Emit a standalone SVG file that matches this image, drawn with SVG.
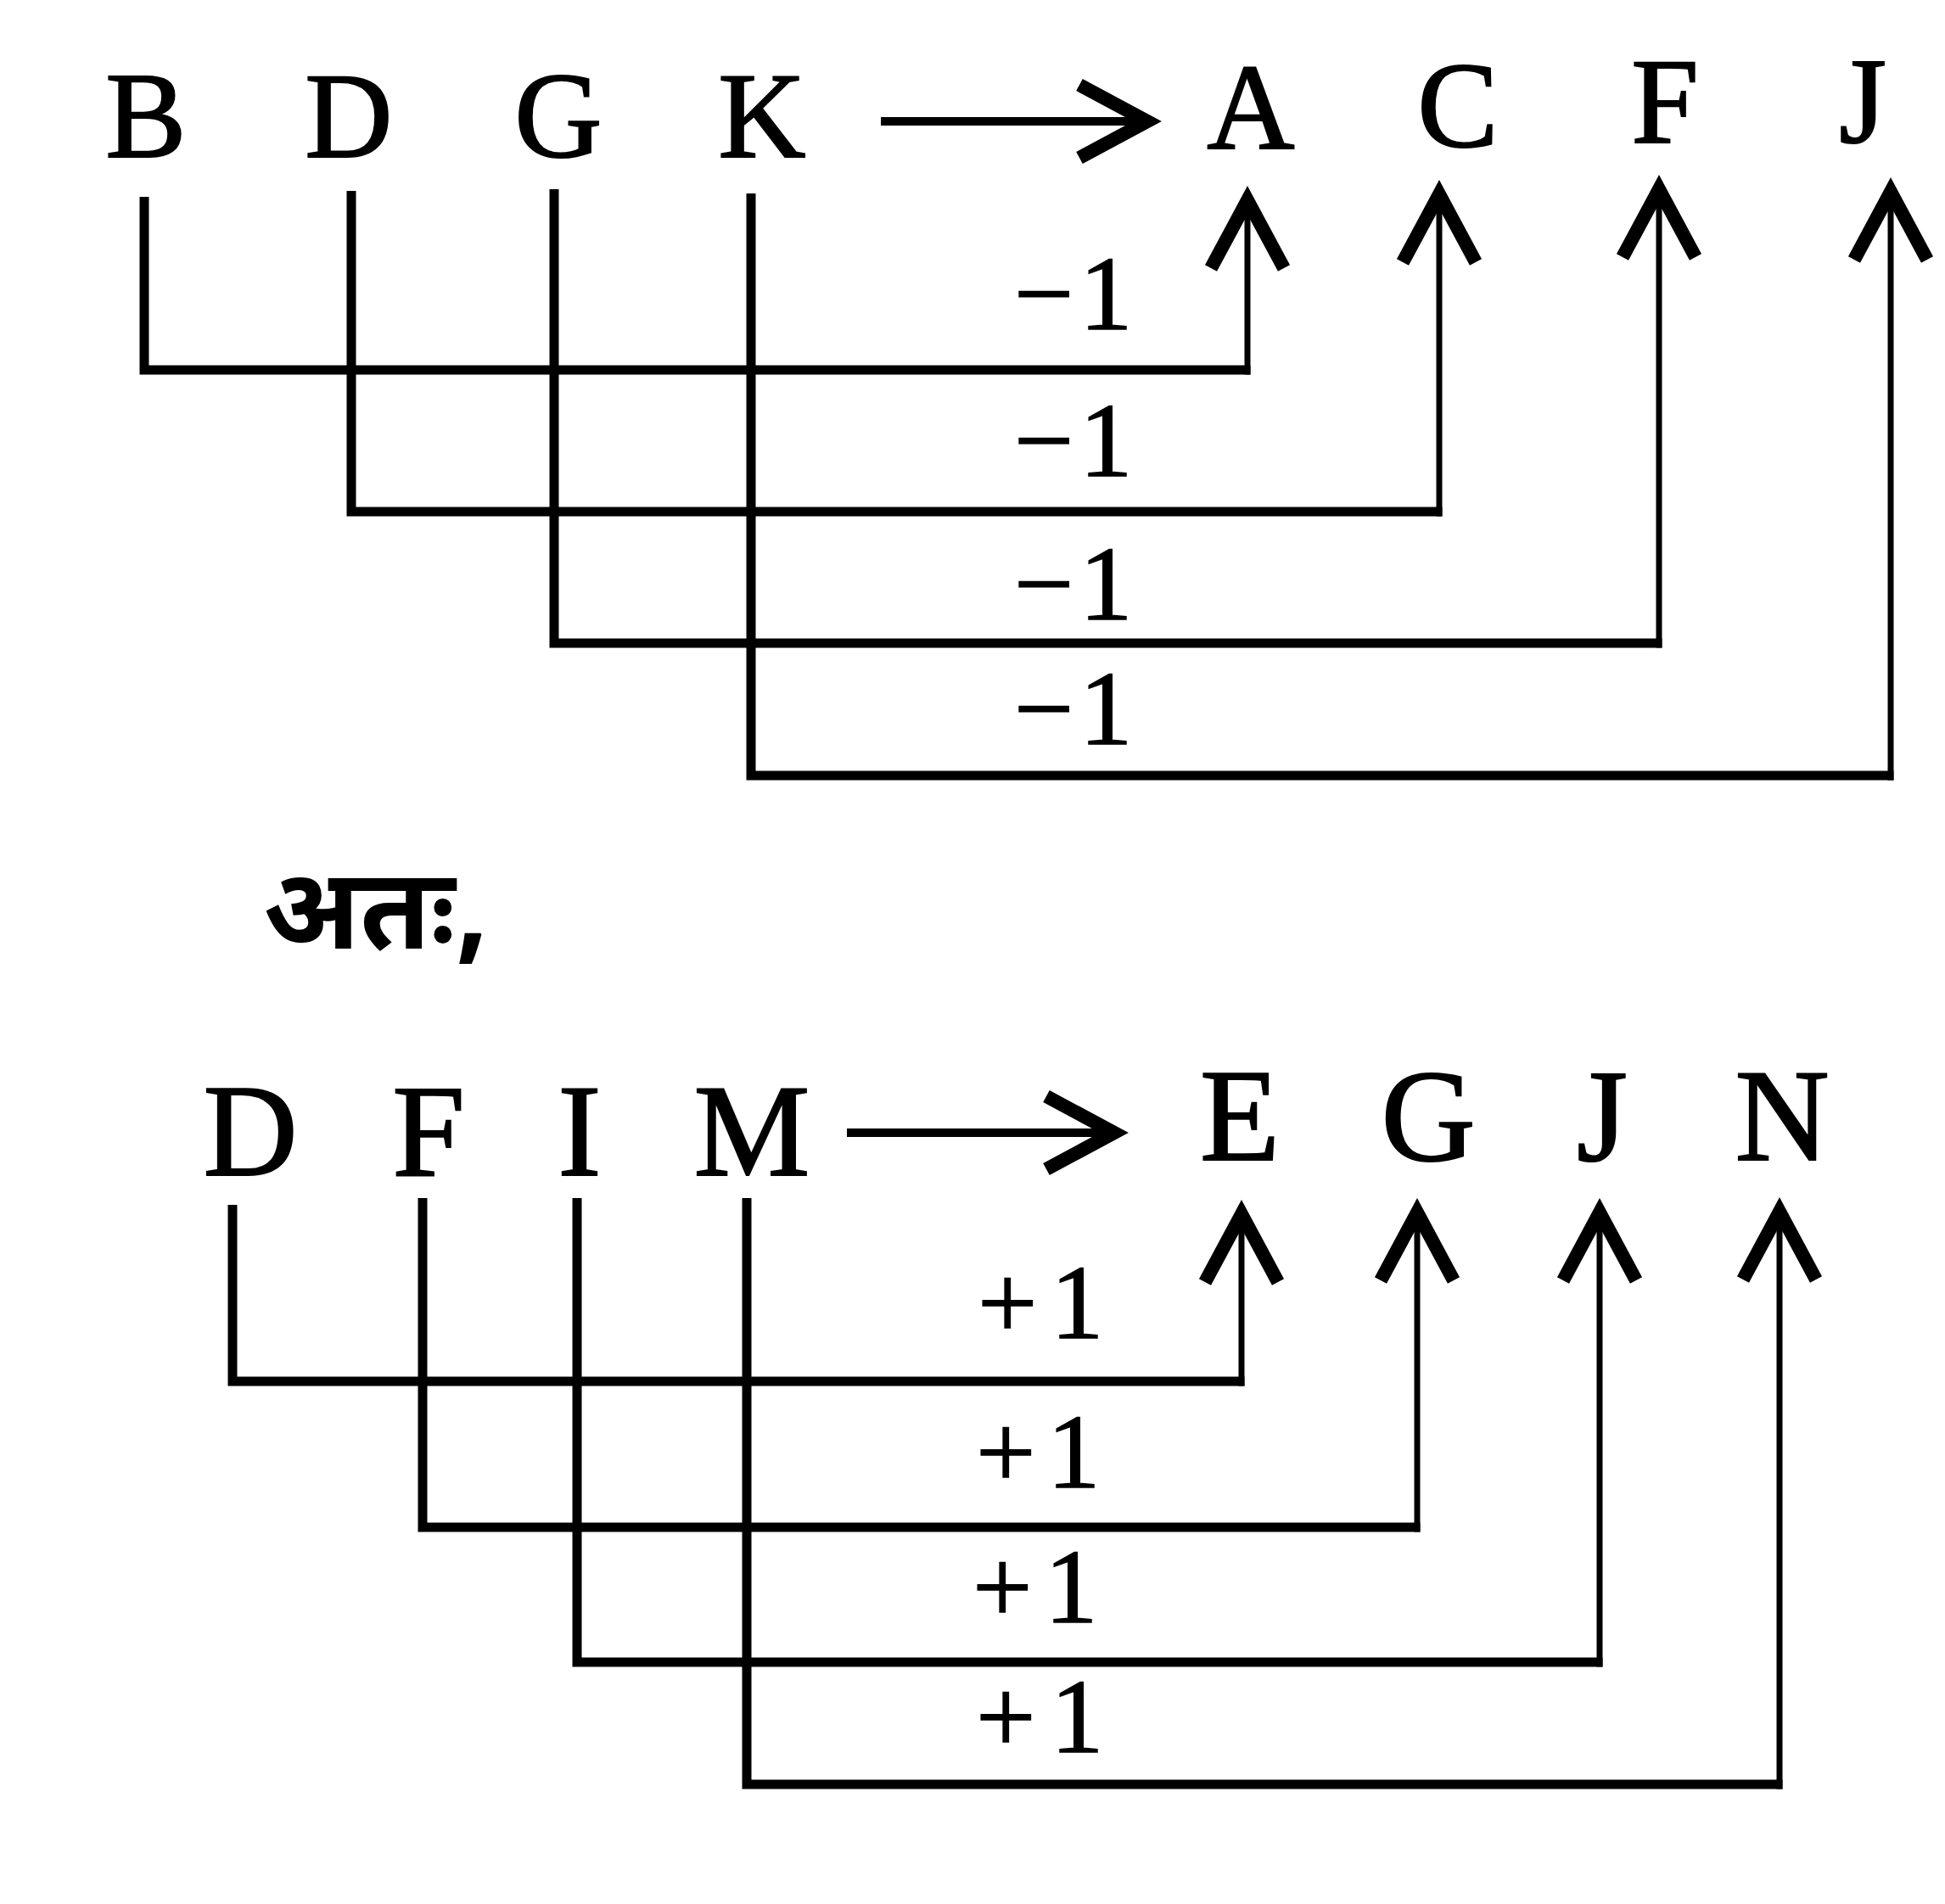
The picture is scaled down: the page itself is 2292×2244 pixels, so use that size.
<svg xmlns="http://www.w3.org/2000/svg" width="2292" height="2244" viewBox="0 0 2292 2244">
<style>
.bg{fill:#fff}
.let{font-family:"Liberation Serif","Times New Roman",serif;fill:#000;text-anchor:middle;stroke:#000;stroke-width:2}
.top{font-size:143px}
.bot{font-size:154px}
.lbl{font-family:"Liberation Serif","Times New Roman",serif;font-size:125px;fill:#000;stroke:#000;stroke-width:1.5}
.hin{font-family:"Noto Sans Devanagari","Lohit Devanagari","Noto Serif Devanagari","FreeSans","Noto Sans",sans-serif;font-size:134px;font-weight:bold;fill:#000}
.lpart{fill:none;stroke:#000;stroke-width:11;stroke-linecap:butt;stroke-linejoin:miter}
.up{fill:none;stroke:#000;stroke-width:7;stroke-linecap:butt;marker-end:url(#chev)}
.main{fill:none;stroke:#000;stroke-width:10;marker-end:url(#chev)}
</style>
<defs>
<marker id="chev" markerUnits="userSpaceOnUse" orient="auto" refX="0" refY="0" markerWidth="200" markerHeight="200" overflow="visible">
<path d="M -80 -43 L 0 0 L -80 43" fill="none" stroke="#000" stroke-width="16" stroke-linejoin="miter"/>
</marker>
</defs>
<rect class="bg" x="0" y="0" width="2292" height="2244"/>

<g id="node-B"><text class="let top" x="172" y="185">B</text></g>
<g id="node-D"><text class="let top" x="411" y="185">D</text></g>
<g id="node-G"><text class="let top" x="658" y="185">G</text></g>
<g id="node-K"><text class="let top" x="898" y="185">K</text></g>
<g id="node-A"><text class="let top" x="1474" y="175">A</text></g>
<g id="node-C"><text class="let top" x="1718" y="173">C</text></g>
<g id="node-F"><text class="let top" x="1962" y="168">F</text></g>
<g id="node-J"><text class="let top" x="2195" y="168">J</text></g>

<g id="node-hindi"><text class="hin" x="310" y="1118">अतः,</text></g>

<g id="node-D2"><text class="let bot" x="295" y="1385">D</text></g>
<g id="node-F2"><text class="let bot" x="505" y="1385">F</text></g>
<g id="node-I2"><text class="let bot" x="683" y="1385">I</text></g>
<g id="node-M2"><text class="let bot" x="886" y="1385">M</text></g>
<g id="node-E2"><text class="let bot" x="1461" y="1367">E</text></g>
<g id="node-G2"><text class="let bot" x="1683" y="1367">G</text></g>
<g id="node-J2"><text class="let bot" x="1888" y="1367">J</text></g>
<g id="node-N2"><text class="let bot" x="2100" y="1367">N</text></g>

<g id="connectors">
<path class="main" d="M1038 143 H1352"/>
<path class="lpart" d="M170 232 V436 H1473.5"/>
<path class="up" d="M1470 441.5 V236"/>
<path class="lpart" d="M414 225 V603 H1699.5"/>
<path class="up" d="M1696 608.5 V229"/>
<path class="lpart" d="M653 223 V758 H1958.5"/>
<path class="up" d="M1955 763.5 V223"/>
<path class="lpart" d="M885 228 V914 H2231.5"/>
<path class="up" d="M2228 919.5 V226"/>

<path class="main" d="M998 1335 H1313"/>
<path class="lpart" d="M274 1420 V1628 H1466.5"/>
<path class="up" d="M1463 1633.5 V1431"/>
<path class="lpart" d="M498 1412 V1800 H1673.5"/>
<path class="up" d="M1670 1805.5 V1429"/>
<path class="lpart" d="M680 1412 V1959 H1888.5"/>
<path class="up" d="M1885 1964.5 V1429"/>
<path class="lpart" d="M880 1412 V2103 H2100.5"/>
<path class="up" d="M2097 2108.5 V1428"/>
</g>

<g id="labels">
<text class="lbl" y="388"><tspan x="1195">−</tspan><tspan x="1272">1</tspan></text>
<text class="lbl" y="561"><tspan x="1195">−</tspan><tspan x="1272">1</tspan></text>
<text class="lbl" y="730"><tspan x="1195">−</tspan><tspan x="1272">1</tspan></text>
<text class="lbl" y="877"><tspan x="1195">−</tspan><tspan x="1272">1</tspan></text>
<text class="lbl" y="1577"><tspan x="1152">+</tspan><tspan x="1238">1</tspan></text>
<text class="lbl" y="1753"><tspan x="1150">+</tspan><tspan x="1234">1</tspan></text>
<text class="lbl" y="1912"><tspan x="1146">+</tspan><tspan x="1231">1</tspan></text>
<text class="lbl" y="2065"><tspan x="1150">+</tspan><tspan x="1238">1</tspan></text>
</g>
</svg>
